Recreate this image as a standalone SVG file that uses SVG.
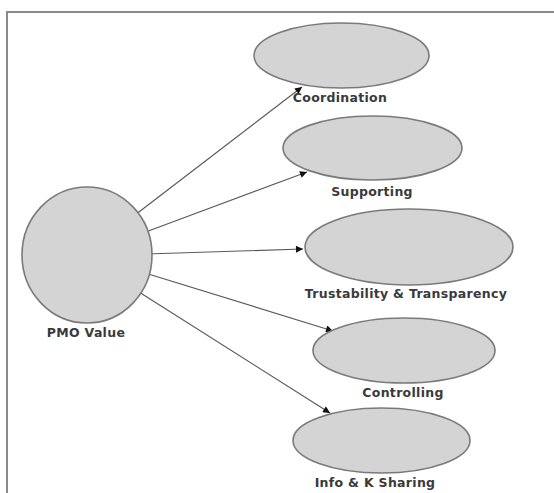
<svg xmlns="http://www.w3.org/2000/svg" width="554" height="493" viewBox="0 0 554 493">
<style>
.node ellipse{fill:#d4d4d4;stroke:#7a7a7a;stroke-width:1.6}
.lbl{font-family:"DejaVu Sans",Verdana,sans-serif;font-weight:bold;font-size:12.5px;letter-spacing:0.3px;fill:#3a3a3a;text-anchor:middle}
.edge{stroke:#5a5a5a;stroke-width:1.2;fill:none;marker-end:url(#ah)}
</style>
<defs>
<marker id="ah" viewBox="0 0 10 10" refX="10" refY="5" markerWidth="9" markerHeight="7" orient="auto" markerUnits="userSpaceOnUse">
<path d="M0,0 L10,5 L0,10 z" fill="#111"/>
</marker>
</defs>
<rect width="554" height="493" fill="#fff"/>
<path d="M7,493 V12 H554" fill="none" stroke="#8a8a8a" stroke-width="2"/>
<g id="connectors">
<line class="edge" x1="135" y1="215" x2="302" y2="87"/>
<line class="edge" x1="143" y1="233" x2="307" y2="172"/>
<line class="edge" x1="146" y1="254" x2="303" y2="249"/>
<line class="edge" x1="145" y1="273" x2="333" y2="331"/>
<line class="edge" x1="139" y1="292" x2="330" y2="413"/>
</g>
<g id="pmo" class="node">
<ellipse cx="87" cy="255" rx="65" ry="68"/>
<text class="lbl" x="86" y="337">PMO Value</text>
</g>
<g id="coordination" class="node">
<ellipse cx="341.5" cy="55.5" rx="87.5" ry="32.5"/>
<text class="lbl" x="340" y="102">Coordination</text>
</g>
<g id="supporting" class="node">
<ellipse cx="372.5" cy="148" rx="89.5" ry="32"/>
<text class="lbl" x="372" y="196">Supporting</text>
</g>
<g id="trustability" class="node">
<ellipse cx="409" cy="247" rx="104" ry="38"/>
<text class="lbl" x="406" y="298">Trustability &amp; Transparency</text>
</g>
<g id="controlling" class="node">
<ellipse cx="404" cy="350.5" rx="91" ry="32.5"/>
<text class="lbl" x="403" y="397">Controlling</text>
</g>
<g id="info" class="node">
<ellipse cx="381.5" cy="440.5" rx="88.5" ry="32.5"/>
<text class="lbl" x="375" y="487">Info &amp; K Sharing</text>
</g>
</svg>
